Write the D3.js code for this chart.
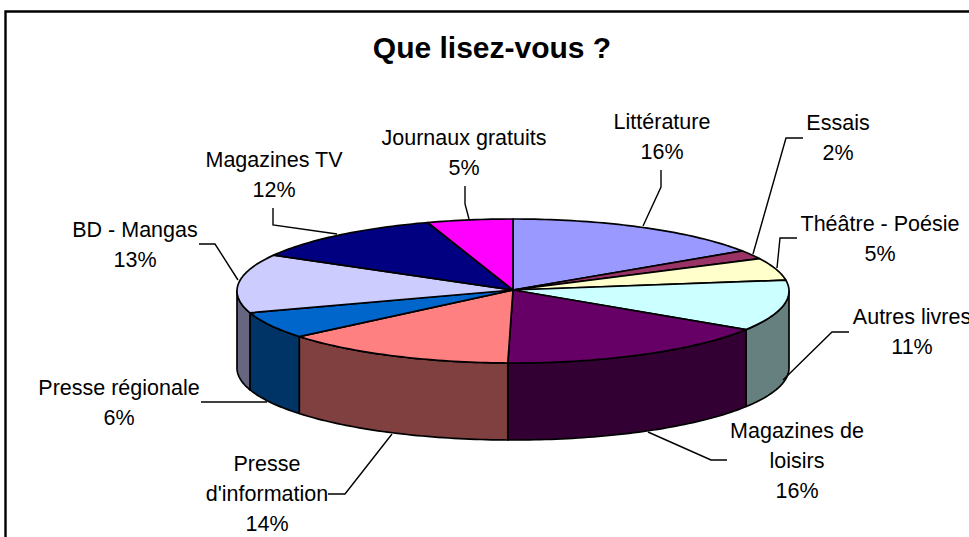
<!DOCTYPE html>
<html lang="fr"><head><meta charset="utf-8">
<style>html,body{margin:0;padding:0;background:#fff;overflow:hidden}svg{display:block}</style>
<script src="https://cdn.jsdelivr.net/npm/d3@7/dist/d3.min.js"></script></head>
<body><svg id="c" width="969" height="537"></svg>
<script>
// Data
const title = "Que lisez-vous ?";
const categories = ["Littérature","Essais","Théâtre - Poésie","Autres livres","Magazines de loisirs","Presse d'information","Presse régionale","BD - Mangas","Magazines TV","Journaux gratuits"];
const values = [15.6,2.0,5.0,11.4,16.3,13.8,6.0,13.2,11.7,5.0];
const percentLabels = ["16%","2%","5%","11%","16%","14%","6%","13%","12%","5%"];

// Styles
const topColors = ["#9999FF","#993366","#FFFFCC","#CCFFFF","#660066","#FF8080","#0066CC","#CCCCFF","#000080","#FF00FF"];
const sideColors = ["#4D4D80","#4D1A33","#808066","#668080","#330033","#804040","#003366","#666680","#000040","#800080"];

// Label layout: wrapped lines, centre x, first baseline, leader polyline
const labelLines = [["Littérature"],["Essais"],["Théâtre - Poésie"],["Autres livres"],["Magazines de","loisirs"],["Presse","d'information"],["Presse régionale"],["BD - Mangas"],["Magazines TV"],["Journaux gratuits"]];
const labelX = [662,838,880,912,797,267,119,135,274,464];
const labelY = [129,130,231,324,438,471,395,237,167,145];
const leaders = [
 [[661,170],[661,187],[643,226]],
 [[803,138],[786,138],[753,254]],
 [[797,238],[780,238],[777,268]],
 [[849,332],[832,332],[783,380]],
 [[727,460],[711,460],[648,432]],
 [[328,494],[345,494],[392,434]],
 [[201,402],[267,402]],
 [[199,244],[215,244],[238,280]],
 [[273,208],[273,225],[337,234]],
 [[465,186],[465,204],[469,219]]
];

const W=969,H=537,cx=513,cy=291,rx=276,ry=72,depth=77,apexY=290;
const svg=d3.select("#c");
const font="'Liberation Sans',Arial,sans-serif";
const sx=d3.scaleLinear().domain([-1,1]).range([cx-rx,cx+rx]);
const sy=d3.scaleLinear().domain([-1,1]).range([cy-ry,cy+ry]);
const px=a=>sx(Math.sin(a)), py=a=>sy(-Math.cos(a));
const line=d3.line();
const arcPts=(a0,a1)=>{const n=Math.max(2,Math.ceil((a1-a0)/0.02));
  return d3.range(n+1).map(i=>{const a=a0+(a1-a0)*i/n;return [px(a),py(a)];});};

// Frame (runs off the right and bottom of the page)
svg.append("path").attr("d",`M5.5,${H+5}V11.5H${W+5}`).attr("fill","none").attr("stroke","#000").attr("stroke-width",2.4);

const arcs=d3.pie().sort(null).startAngle(0).endAngle(2*Math.PI)(values);

// Side walls
const g=svg.append("g").attr("stroke","#000").attr("stroke-width",1.7).attr("stroke-linejoin","round");
arcs.forEach((d,i)=>{
  const a0=Math.max(d.startAngle,Math.PI/2),a1=Math.min(d.endAngle,3*Math.PI/2);
  if(a1<=a0)return;
  const t=arcPts(a0,a1),b=t.slice().reverse().map(p=>[p[0],p[1]+depth]);
  g.append("path").attr("d",line(t.concat(b))+"Z").attr("fill",sideColors[i]);
});
// Top faces
arcs.forEach((d,i)=>{
  const pts=[[cx,apexY]].concat(arcPts(d.startAngle,d.endAngle));
  g.append("path").attr("d",line(pts)+"Z").attr("fill",topColors[i]);
});

// Leader lines
svg.append("g").attr("fill","none").attr("stroke","#000").attr("stroke-width",1.4)
  .selectAll("path").data(leaders).join("path").attr("d",d=>line(d));

// Labels
const lg=svg.append("g").attr("font-family",font).attr("font-size",21.5).attr("fill","#000").attr("text-anchor","middle");
categories.forEach((c,i)=>{
  const lines=labelLines[i].concat([percentLabels[i]]);
  const t=lg.append("text").attr("data-category",c);
  lines.forEach((l,j)=>t.append("tspan").attr("x",labelX[i]).attr("y",labelY[i]+j*30.2).text(l));
});

svg.append("text").attr("x",492).attr("y",58).attr("text-anchor","middle").attr("font-family",font)
  .attr("font-weight","bold").attr("font-size",30).attr("fill","#000").text(title);
</script></body></html>
